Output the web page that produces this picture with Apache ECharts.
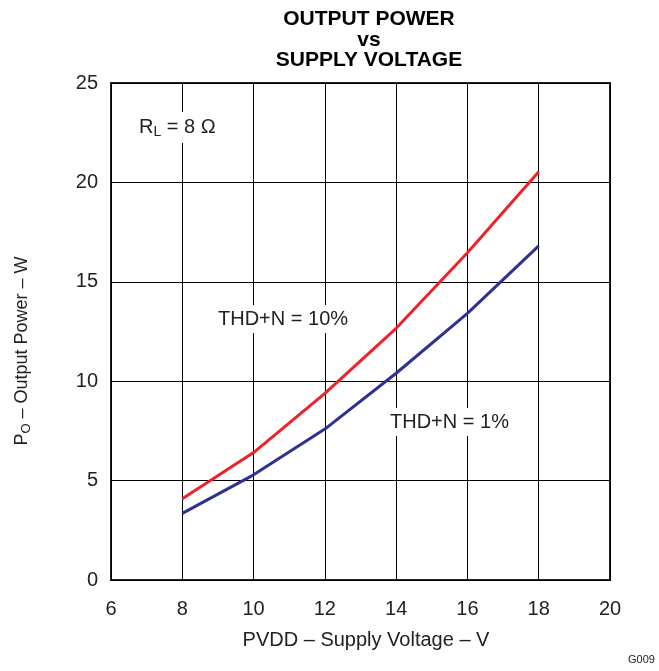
<!DOCTYPE html>
<html><head><meta charset="utf-8">
<script src="https://cdn.jsdelivr.net/npm/echarts@6/dist/echarts.min.js"></script>
<style>html,body{margin:0;padding:0;background:#fff}#c{width:659px;height:671px}</style>
</head><body><div id="c"></div>
<script>
const voltage = [8, 10, 12, 14, 16, 18];
const thd10 = [4.09, 6.41, 9.39, 12.66, 16.46, 20.53];
const thd1 = [3.35, 5.29, 7.59, 10.40, 13.41, 16.81];
const xTicks = [6, 8, 10, 12, 14, 16, 18, 20];
const yTicks = [0, 5, 10, 15, 20, 25];

const FONT = 'Liberation Sans, Arial, sans-serif';
const chart = echarts.init(document.getElementById('c'));
chart.setOption({
  animation: false,
  backgroundColor: '#fff',
  title: {
    text: 'OUTPUT POWER\nvs\nSUPPLY VOLTAGE',
    left: 364, top: 4, textAlign: 'center',
    textStyle: {fontFamily: FONT, fontWeight: 'bold', fontSize: 21, lineHeight: 20.5, color: '#000'}
  },
  grid: {left: 111, right: 49, top: 83, bottom: 91, show: true, borderColor: '#222', borderWidth: 2},
  xAxis: {
    type: 'value', min: xTicks[0], max: xTicks[xTicks.length - 1], interval: 2,
    name: 'PVDD – Supply Voltage – V', nameLocation: 'middle', nameGap: 50,
    nameTextStyle: {fontFamily: FONT, fontSize: 20, color: '#222', padding: [0, 0, 0, 11]},
    axisLine: {show: false}, axisTick: {show: false},
    axisLabel: {fontFamily: FONT, fontSize: 20, color: '#222', margin: 19},
    splitLine: {show: true, lineStyle: {color: '#000', width: 1}}
  },
  yAxis: {
    type: 'value', min: yTicks[0], max: yTicks[yTicks.length - 1], interval: 5,
    axisLine: {show: false}, axisTick: {show: false},
    axisLabel: {fontFamily: FONT, fontSize: 20, color: '#222', margin: 13},
    splitLine: {show: true, lineStyle: {color: '#000', width: 1}}
  },
  series: [
    {type: 'line', data: voltage.map((v, i) => [v, thd10[i]]), showSymbol: false,
     lineStyle: {color: '#ee2229', width: 3}, z: 3},
    {type: 'line', data: voltage.map((v, i) => [v, thd1[i]]), showSymbol: false,
     lineStyle: {color: '#2e3192', width: 3}, z: 3}
  ],
  graphic: [
    {type: 'text', x: 22, y: 351, rotation: Math.PI / 2, z: 10, style: {
      rich: {n: {fontFamily: FONT, fontSize: 18, fill: '#222'}, s: {fontFamily: FONT, fontSize: 13, fill: '#222', padding: [8, 0, 0, 0]}},
      text: '{n|P}{s|O}{n| – Output Power – W}', align: 'center', verticalAlign: 'middle'}},
    {type: 'text', left: 135, top: 112, z: 10, style: {
      rich: {n: {fontFamily: FONT, fontSize: 20, fill: '#222'}, s: {fontFamily: FONT, fontSize: 14, fill: '#222', padding: [9, 0, 0, 0]}},
      text: '{n|R}{s|L}{n| = 8 Ω}', backgroundColor: '#fff', padding: [4, 4, 4, 4]}},
    {type: 'text', left: 214, top: 305, z: 10, style: {
      text: 'THD+N = 10%', fontFamily: FONT, fontSize: 20, fill: '#222', backgroundColor: '#fff', padding: [4, 4, 4, 4]}},
    {type: 'text', left: 386, top: 408, z: 10, style: {
      text: 'THD+N = 1%', fontFamily: FONT, fontSize: 20, fill: '#222', backgroundColor: '#fff', padding: [4, 4, 4, 4]}},
    {type: 'text', left: 628, top: 654, style: {
      text: 'G009', fontFamily: FONT, fontSize: 11, fill: '#222'}}
  ]
});
</script></body></html>
